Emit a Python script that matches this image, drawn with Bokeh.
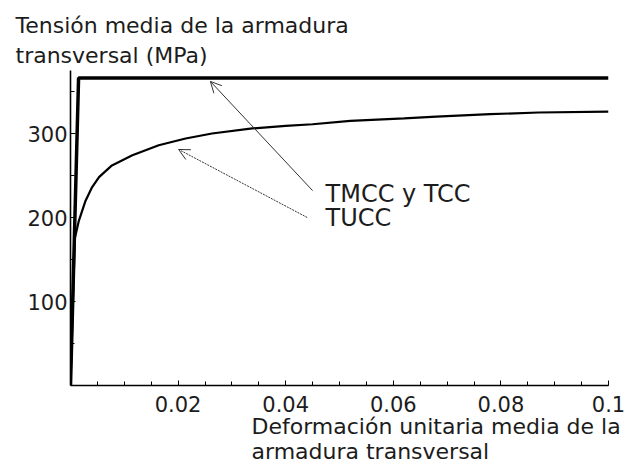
from bokeh.plotting import figure
from bokeh.models import Range1d, FixedTicker, Label, Arrow, OpenHead, Title
from bokeh.embed import file_html
from bokeh.resources import INLINE

# ---- data ----
# TMCC y TCC: elastic-perfectly plastic steel
tmcc_strain = [0.0, 0.0015, 0.1]
tmcc_stress = [0.0, 366.0, 366.0]

# TUCC: tension-stiffened response
tucc_strain = [0.0, 0.0008, 0.00155, 0.0028, 0.0040, 0.0053, 0.0077, 0.0115,
               0.0164, 0.0214, 0.0263, 0.0338, 0.040, 0.045, 0.052, 0.062,
               0.068, 0.078, 0.087, 0.100]
tucc_stress = [0.0, 175.0, 196.0, 220.0, 236.0, 248.0, 262.0, 274.0,
               286.0, 294.0, 300.0, 306.0, 309.0, 311.0, 315.0, 318.0,
               320.0, 323.0, 325.0, 326.0]

x_ticks = [0.02, 0.04, 0.06, 0.08, 0.1]
x_tick_labels = ["0.02", "0.04", "0.06", "0.08", "0.1"]
x_minor = [0.005 * i for i in range(1, 21)]
y_ticks = [100, 200, 300]
y_minor = [50, 150, 250, 350]

y_title = "Tensión media de la armadura\ntransversal (MPa)"
x_title = "Deformación unitaria media de la\narmadura transversal"
label_tmcc = "TMCC y TCC"
label_tucc = "TUCC"

FONT = "DejaVu Sans"
INK = "#1c1c1c"

p = figure(frame_width=538, frame_height=315,
           min_border_left=70, min_border_right=22,
           min_border_top=70, min_border_bottom=81,
           x_range=Range1d(0, 0.1), y_range=Range1d(0, 375),
           title_location=None,
           output_backend="svg", toolbar_location=None,
           background_fill_color="white", border_fill_color="white")
p.outline_line_color = None
p.grid.visible = False

p.line(tmcc_strain, tmcc_stress, line_color="black", line_width=3.5)
p.line(tucc_strain, tucc_stress, line_color="black", line_width=2.2)

# axes
p.xaxis.ticker = FixedTicker(ticks=x_ticks, minor_ticks=x_minor)
p.xaxis.major_label_overrides = {t: s for t, s in zip(x_ticks, x_tick_labels)}
p.yaxis.ticker = FixedTicker(ticks=y_ticks, minor_ticks=y_minor)
for ax in (p.xaxis, p.yaxis):
    ax.axis_line_width = 1.6
    ax.axis_line_color = "black"
    ax.major_tick_in = 5
    ax.major_tick_out = 0
    ax.minor_tick_in = 4
    ax.minor_tick_out = 0
    ax.major_tick_line_color = "black"
    ax.minor_tick_line_color = "black"
    ax.major_label_text_font = FONT
    ax.major_label_text_font_size = "21px"
    ax.major_label_text_color = INK
p.xaxis.major_label_standoff = 10
p.yaxis.major_label_standoff = 3

# axis titles
p.add_layout(Title(text=y_title, align="left", offset=-55, standoff=5,
                   text_font=FONT, text_font_size="22px", text_font_style="normal",
                   text_color=INK, text_line_height=1.2), "above")
p.add_layout(Title(text=x_title, align="left", offset=181, standoff=-5,
                   text_font=FONT, text_font_size="22px", text_font_style="normal",
                   text_color=INK, text_line_height=1.0), "below")

# annotations
p.add_layout(Label(x=0.0474, y=227.5, text=label_tmcc, text_font=FONT,
                   text_font_size="24px", text_color=INK, text_baseline="alphabetic"))
p.add_layout(Label(x=0.0474, y=199.5, text=label_tucc, text_font=FONT,
                   text_font_size="24px", text_color=INK, text_baseline="alphabetic"))
p.add_layout(Arrow(end=OpenHead(size=11, line_width=1, line_color="#333333"),
                   x_start=0.045, y_start=232, x_end=0.026, y_end=362,
                   line_width=1, line_color="#333333"))
p.add_layout(Arrow(end=OpenHead(size=11, line_width=1, line_color="#333333"),
                   x_start=0.044, y_start=200, x_end=0.0201, y_end=281,
                   line_width=1, line_color="#333333", line_dash="2 1"))

open("out.html", "w").write(file_html(p, INLINE))
